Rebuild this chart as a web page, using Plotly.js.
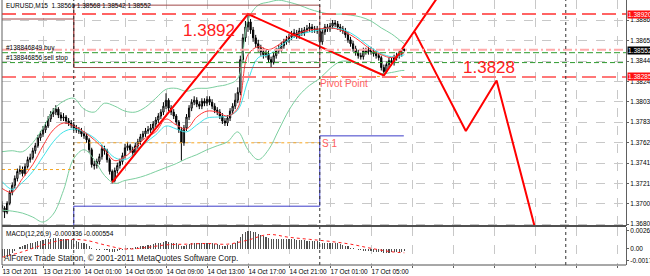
<!DOCTYPE html>
<html><head><meta charset="utf-8">
<script src="https://cdn.plot.ly/plotly-3.0.1.min.js"></script>
<style>html,body{margin:0;padding:0;background:#fff;overflow:hidden}#chart{width:650px;height:276px}</style>
</head><body><div id="chart"></div>
<script>
const headerText = 'EURUSD,M15  1.38566 1.38568 1.38542 1.38552';
const open = [1.3699,1.3696,1.3692,1.3701,1.3712,1.3719,1.3726,1.3733,1.3735,1.3731,
1.3738,1.3745,1.3747,1.3754,1.3759,1.3767,1.3771,1.3775,1.3779,1.3786,
1.3791,1.3793,1.3796,1.3790,1.3787,1.3788,1.3784,1.3782,1.3780,1.3777,
1.3775,1.3774,1.3771,1.3769,1.3765,1.3755,1.3740,1.3739,1.3743,1.3748,
1.3756,1.3754,1.3745,1.3733,1.3724,1.3734,1.3739,1.3743,1.3749,1.3757,
1.3759,1.3755,1.3752,1.3759,1.3763,1.3768,1.3771,1.3774,1.3775,1.3777,
1.3781,1.3785,1.3789,1.3793,1.3799,1.3805,1.3797,1.3793,1.3789,1.3783,
1.3775,1.3762,1.3777,1.3788,1.3797,1.3803,1.3805,1.3801,1.3799,1.3804,
1.3802,1.3806,1.3803,1.3799,1.3795,1.3793,1.3789,1.3784,1.3782,1.3787,
1.3794,1.3799,1.3805,1.3813,1.3846,1.3868,1.3879,1.3884,1.3876,1.3868,
1.3862,1.3858,1.3854,1.3851,1.3852,1.3846,1.3843,1.3850,1.3855,1.3857,
1.3860,1.3864,1.3866,1.3869,1.3871,1.3873,1.3870,1.3875,1.3873,1.3876,
1.3877,1.3879,1.3876,1.3877,1.3875,1.3864,1.3874,1.3879,1.3877,1.3880,
1.3883,1.3882,1.3879,1.3877,1.3875,1.3871,1.3866,1.3862,1.3857,1.3853,
1.3850,1.3849,1.3855,1.3854,1.3856,1.3854,1.3852,1.3850,1.3848,1.3838,
1.3834,1.3841,1.3845,1.3843,1.3848,1.3850,1.3852,1.38566];
const high = [1.3703,1.3698,1.3703,1.3714,1.3722,1.3729,1.3736,1.3739,1.3738,1.3741,
1.3748,1.3751,1.3757,1.3762,1.3770,1.3774,1.3779,1.3783,1.3789,1.3794,
1.3797,1.3800,1.3798,1.3793,1.3792,1.3790,1.3787,1.3785,1.3783,1.3780,
1.3778,1.3777,1.3774,1.3772,1.3767,1.3757,1.3744,1.3746,1.3751,1.3760,
1.3759,1.3756,1.3747,1.3735,1.3737,1.3742,1.3746,1.3752,1.3761,1.3763,
1.3761,1.3758,1.3762,1.3766,1.3771,1.3774,1.3777,1.3779,1.3781,1.3784,
1.3788,1.3792,1.3796,1.3803,1.3812,1.3807,1.3800,1.3796,1.3791,1.3785,
1.3778,1.3780,1.3791,1.3800,1.3806,1.3809,1.3808,1.3804,1.3807,1.3807,
1.3809,1.3809,1.3806,1.3802,1.3798,1.3796,1.3792,1.3787,1.3790,1.3797,
1.3802,1.3812,1.3818,1.3850,1.3872,1.3885,1.3892,1.3887,1.3879,1.3871,
1.3866,1.3861,1.3858,1.3856,1.3855,1.3849,1.3853,1.3858,1.3861,1.3864,
1.3867,1.3870,1.3872,1.3875,1.3877,1.3876,1.3878,1.3878,1.3879,1.3881,
1.3883,1.3882,1.3880,1.3880,1.3877,1.3877,1.3882,1.3882,1.3883,1.3886,
1.3886,1.3885,1.3882,1.3880,1.3878,1.3874,1.3869,1.3865,1.3860,1.3856,
1.3853,1.3858,1.3858,1.3859,1.3859,1.3857,1.3855,1.3853,1.3850,1.3841,
1.3844,1.3848,1.3848,1.3851,1.3853,1.3855,1.3856,1.38568];
const low = [1.3692,1.3686,1.3690,1.3699,1.3709,1.3716,1.3723,1.3730,1.3728,1.3729,
1.3736,1.3742,1.3745,1.3751,1.3757,1.3764,1.3768,1.3772,1.3777,1.3783,
1.3788,1.3790,1.3787,1.3784,1.3784,1.3781,1.3779,1.3777,1.3774,1.3772,
1.3771,1.3768,1.3766,1.3762,1.3752,1.3737,1.3735,1.3736,1.3740,1.3745,
1.3750,1.3742,1.3730,1.3721,1.3722,1.3731,1.3736,1.3740,1.3746,1.3754,
1.3752,1.3749,1.3750,1.3756,1.3760,1.3765,1.3768,1.3771,1.3772,1.3774,
1.3778,1.3782,1.3786,1.3790,1.3796,1.3794,1.3790,1.3786,1.3780,1.3772,
1.3744,1.3759,1.3774,1.3785,1.3794,1.3800,1.3798,1.3796,1.3796,1.3799,
1.3799,1.3800,1.3796,1.3792,1.3790,1.3786,1.3781,1.3779,1.3779,1.3784,
1.3791,1.3796,1.3802,1.3810,1.3843,1.3864,1.3874,1.3872,1.3864,1.3858,
1.3854,1.3850,1.3847,1.3848,1.3843,1.3838,1.3841,1.3847,1.3852,1.3854,
1.3857,1.3861,1.3863,1.3866,1.3868,1.3867,1.3867,1.3870,1.3870,1.3873,
1.3874,1.3873,1.3873,1.3872,1.3856,1.3861,1.3871,1.3874,1.3874,1.3877,
1.3879,1.3876,1.3874,1.3872,1.3868,1.3863,1.3859,1.3854,1.3850,1.3847,
1.3846,1.3846,1.3851,1.3851,1.3851,1.3849,1.3847,1.3845,1.3835,1.3831,
1.3832,1.3838,1.3840,1.3840,1.3845,1.3847,1.3849,1.38542];
const close = [1.3696,1.3692,1.3701,1.3712,1.3719,1.3726,1.3733,1.3735,1.3731,1.3738,
1.3745,1.3747,1.3754,1.3759,1.3767,1.3771,1.3775,1.3779,1.3786,1.3791,
1.3793,1.3796,1.3790,1.3787,1.3788,1.3784,1.3782,1.3780,1.3777,1.3775,
1.3774,1.3771,1.3769,1.3765,1.3755,1.3740,1.3739,1.3743,1.3748,1.3756,
1.3754,1.3745,1.3733,1.3724,1.3734,1.3739,1.3743,1.3749,1.3757,1.3759,
1.3755,1.3752,1.3759,1.3763,1.3768,1.3771,1.3774,1.3775,1.3777,1.3781,
1.3785,1.3789,1.3793,1.3799,1.3805,1.3797,1.3793,1.3789,1.3783,1.3775,
1.3762,1.3777,1.3788,1.3797,1.3803,1.3805,1.3801,1.3799,1.3804,1.3802,
1.3806,1.3803,1.3799,1.3795,1.3793,1.3789,1.3784,1.3782,1.3787,1.3794,
1.3799,1.3805,1.3813,1.3846,1.3868,1.3879,1.3884,1.3876,1.3868,1.3862,
1.3858,1.3854,1.3851,1.3852,1.3846,1.3843,1.3850,1.3855,1.3857,1.3860,
1.3864,1.3866,1.3869,1.3871,1.3873,1.3870,1.3875,1.3873,1.3876,1.3877,
1.3879,1.3876,1.3877,1.3875,1.3864,1.3874,1.3879,1.3877,1.3880,1.3883,
1.3882,1.3879,1.3877,1.3875,1.3871,1.3866,1.3862,1.3857,1.3853,1.3850,
1.3849,1.3855,1.3854,1.3856,1.3854,1.3852,1.3850,1.3848,1.3838,1.3834,
1.3841,1.3845,1.3843,1.3848,1.3850,1.3852,1.3853,1.38552];
const macd = [-0.0012,-0.0013,-0.0011,-0.0009,-0.0006,-0.0003,0.0000,0.0003,0.0005,0.0006,
0.0007,0.0008,0.0009,0.0010,0.0011,0.0012,0.0013,0.0014,0.0015,0.0015,
0.0016,0.0016,0.0016,0.0015,0.0015,0.0014,0.0014,0.0013,0.0012,0.0011,
0.0010,0.0009,0.0008,0.0007,0.0005,0.0002,0.0000,-0.0001,-0.0001,0.0000,
-0.0001,-0.0002,-0.0004,-0.0005,-0.0004,-0.0003,-0.0002,-0.0001,0.0000,0.0001,
0.0001,0.0002,0.0003,0.0003,0.0004,0.0005,0.0005,0.0006,0.0006,0.0007,
0.0008,0.0008,0.0009,0.0010,0.0011,0.0010,0.0009,0.0009,0.0008,0.0006,
0.0004,0.0005,0.0006,0.0007,0.0008,0.0008,0.0008,0.0008,0.0008,0.0008,
0.0008,0.0008,0.0008,0.0007,0.0007,0.0006,0.0005,0.0005,0.0006,0.0006,
0.0007,0.0008,0.0011,0.0017,0.0022,0.0025,0.0026,0.0026,0.0025,0.0024,
0.0022,0.0020,0.0019,0.0017,0.0016,0.0015,0.0015,0.0015,0.0015,0.0014,
0.0014,0.0014,0.0014,0.0014,0.0014,0.0013,0.0013,0.0013,0.0013,0.0012,
0.0012,0.0012,0.0011,0.0011,0.0010,0.0009,0.0009,0.0009,0.0009,0.0009,
0.0008,0.0008,0.0007,0.0006,0.0005,0.0004,0.0002,0.0001,0.0000,-0.0001,
-0.0002,-0.0003,-0.0003,-0.0003,-0.0003,-0.0004,-0.0004,-0.0005,-0.0005,-0.0006,
-0.0006,-0.0006,-0.0005,-0.0005,-0.0004,-0.0004,-0.0004,-0.000336];

// indicator lines sampled every 4 bars (bar index)
const indBars = [0,4,8,12,16,20,24,28,32,36,40,44,48,52,56,60,64,68,72,76,80,84,88,92,96,100,104,108,112,116,120,124,128,132,136,140,144,148,152,156,157];
const maFast = [1.3716,1.3712,1.3726,1.3740,1.3759,1.3775,1.3782,1.3779,1.3773,1.3765,1.3755,1.3744,1.3748,1.3757,1.3767,1.3773,1.3786,1.3780,1.3776,1.3788,1.3794,1.3793,1.3789,1.3797,1.3851,1.3859,1.3856,1.3861,1.3869,1.3873,1.3876,1.3877,1.3878,1.3876,1.3871,1.3864,1.3856,1.3851,1.3848,1.3852,1.3853];
const maSlow = [1.3723,1.3715,1.3722,1.3733,1.3748,1.3763,1.3773,1.3776,1.3773,1.3767,1.3757,1.3747,1.3745,1.3752,1.3762,1.3770,1.3779,1.3776,1.3773,1.3780,1.3787,1.3788,1.3789,1.3795,1.3825,1.3848,1.3851,1.3858,1.3866,1.3871,1.3874,1.3876,1.3878,1.3877,1.3873,1.3866,1.3858,1.3852,1.3849,1.3850,1.3851];
const bandUpper = [1.3753,1.3754,1.3753,1.3762,1.3777,1.3795,1.3804,1.3807,1.3796,1.3793,1.3802,1.3799,1.3794,1.3793,1.3798,1.3807,1.3816,1.3817,1.3814,1.3817,1.3817,1.3819,1.3821,1.3827,1.3886,1.3901,1.3904,1.3906,1.3904,1.3901,1.3897,1.3894,1.3892,1.3892,1.3891,1.3889,1.3885,1.3878,1.3872,1.3864,1.3862];
const bandLower = [1.3694,1.3693,1.3691,1.3687,1.3682,1.3690,1.3714,1.3746,1.3755,1.3745,1.3729,1.3721,1.3724,1.3726,1.3729,1.3733,1.3737,1.3741,1.3746,1.3750,1.3755,1.3759,1.3763,1.3773,1.3755,1.3745,1.3755,1.3775,1.3795,1.3810,1.3820,1.3827,1.3837,1.3844,1.3844,1.3840,1.3835,1.3832,1.3833,1.3835,1.3835];

const signalBars = [0,8,16,24,32,40,48,56,64,72,80,88,96,104,112,120,128,136,144,152,157];
const signal = [-0.0012,-0.0004,0.0006,0.0013,0.0013,0.0006,0.0000,0.0002,0.0006,0.0007,0.0008,0.0007,0.0013,0.0021,0.0017,0.0014,0.0011,0.0007,0.0001,-0.0004,-0.000554];

// zigzag + projection
const zigBars = [43,96,149,170];
const zigPrices = [1.3722,1.3892,1.3830,1.3909];
const projBars = [161,181,193,208];
const projPrices = [1.3874,1.3774,1.3825,1.3676];

// day levels (day start bar index)
const dayStarts = [0,28,124,220];
const pivots = [1.3735,1.3762,1.3829];
const s1Levels = [1.3660,1.3698,1.3769];
const lastBar = 157.5;
const rangeTop = [1.3887,1.3901];
const rangeLow = 1.3838;

const levelHigh = 1.38920, levelLow = 1.38285, bidPrice = 1.38552;
const buyPrice = 1.3853, askLine = 1.3856, sellStopPrice = 1.3843;
const buyLabel = '#138846849 buy', sellLabel = '#138846856 sell stop';

const priceTicks = [1.38860,1.38655,1.38445,1.38240,1.38035,1.37830,1.37625,1.37415,1.37210,1.37005,1.36800];
const macdTicks = [0.002613,0,-0.00171];
const macdTickText = ['0.002613','0.00','-0.00171'];
const timeTicks = [0,16,32,48,64,80,96,112,128,144,160,176,192,208,224,240];
const timeLabels = ['13 Oct 2011','13 Oct 21:00','14 Oct 01:00','14 Oct 05:00','14 Oct 09:00','14 Oct 13:00','14 Oct 17:00','14 Oct 21:00','17 Oct 01:00','17 Oct 05:00','','','','','',''];

const bars = close.map((_, i) => i);
const F = 'Liberation Sans, Arial, sans-serif';

const traces = [];
traces.push({type:'scatter',mode:'lines',x:indBars,y:bandUpper,line:{color:'#7ccf9f',width:1,shape:'spline'},hoverinfo:'skip'});
traces.push({type:'scatter',mode:'lines',x:indBars,y:bandLower,line:{color:'#7ccf9f',width:1,shape:'spline'},hoverinfo:'skip'});
traces.push({type:'scatter',mode:'lines',x:indBars,y:maSlow,line:{color:'#3fe3e8',width:1,shape:'spline'},hoverinfo:'skip'});
traces.push({type:'scatter',mode:'lines',x:indBars,y:maFast,line:{color:'#ff3a3a',width:1,shape:'spline'},hoverinfo:'skip'});
traces.push({type:'scatter',mode:'lines',x:[dayStarts[0],dayStarts[1],dayStarts[2],lastBar],y:[pivots[0],pivots[1],pivots[2],pivots[2]],line:{color:'#f5a623',width:1,shape:'hv',dash:'dot'},hoverinfo:'skip'});
traces.push({type:'scatter',mode:'lines',x:[dayStarts[0],dayStarts[1],dayStarts[2],lastBar-0.7],y:[s1Levels[0],s1Levels[1],s1Levels[2],s1Levels[2]],line:{color:'#3c3cc8',width:1,shape:'hv'},hoverinfo:'skip'});
traces.push({type:'scatter',mode:'lines',x:[dayStarts[0],dayStarts[1],dayStarts[1]],y:[rangeTop[0],rangeTop[0],rangeLow],line:{color:'#a04848',width:1},hoverinfo:'skip'});
traces.push({type:'scatter',mode:'lines',x:[dayStarts[1],dayStarts[2],dayStarts[2],dayStarts[1],dayStarts[1]],y:[rangeTop[1],rangeTop[1],rangeLow,rangeLow,rangeTop[1]],line:{color:'#a04848',width:1},hoverinfo:'skip'});
traces.push({type:'candlestick',x:bars,open:open,high:high,low:low,close:close,
  increasing:{line:{color:'#000000',width:1},fillcolor:'#ffffff'},
  decreasing:{line:{color:'#000000',width:1},fillcolor:'#000000'},
  whiskerwidth:0,hoverinfo:'skip'});
traces.push({type:'scatter',mode:'lines',x:zigBars,y:zigPrices,line:{color:'#ff0000',width:2},hoverinfo:'skip'});
traces.push({type:'scatter',mode:'lines',x:projBars,y:projPrices,line:{color:'#ff0000',width:2},hoverinfo:'skip'});
traces.push({type:'bar',x:bars,y:macd,xaxis:'x',yaxis:'y2',marker:{color:'#505050',line:{width:0}},width:0.45,hoverinfo:'skip'});
traces.push({type:'scatter',mode:'lines',x:signalBars,y:signal,xaxis:'x',yaxis:'y2',line:{color:'#ff2020',width:1,dash:'dot',shape:'spline'},hoverinfo:'skip'});

const shapes = [];
function hline(y, color, width, dash){ shapes.push({type:'line',xref:'paper',x0:0,x1:1,yref:'y',y0:y,y1:y,line:{color:color,width:width,dash:dash},layer:'above'}); }
hline(levelHigh,'#ff3030',1.5,'14px,6px');
hline(levelLow,'#ff7878',2,'14px,6px');
hline(askLine,'#ffaaaa',2,'9px,3px,2px,3px');
hline(buyPrice,'#2e9a2e',1,'6px,3px');
hline(sellStopPrice,'#2e9a2e',1,'5px,3px');
dayStarts.slice(1).forEach(d => shapes.push({type:'line',xref:'x',x0:d,x1:d,yref:'paper',y0:0,y1:1,line:{color:'#303030',width:1,dash:'dot'}}));
shapes.push({type:'line',xref:'paper',x0:0,x1:0,yref:'paper',y0:0,y1:1,line:{color:'#606060',width:1}});
shapes.push({type:'line',xref:'paper',x0:0,x1:1,yref:'y domain',y0:0,y1:0,line:{color:'#505050',width:2}});
shapes.push({type:'line',xref:'paper',x0:0,x1:1,yref:'paper',y0:0,y1:0,line:{color:'#505050',width:1}});

const ann = [];
ann.push({xref:'paper',x:0,xanchor:'left',xshift:2,yref:'paper',y:1,yanchor:'top',yshift:0,text:headerText,showarrow:false,font:{family:F,size:6.5,color:'#000'}});
ann.push({xref:'paper',x:0,xanchor:'left',xshift:2,yref:'y',y:buyPrice,yanchor:'bottom',yshift:-1,text:buyLabel,showarrow:false,font:{family:F,size:6.5,color:'#000'}});
ann.push({xref:'paper',x:0,xanchor:'left',xshift:2,yref:'y',y:sellStopPrice,yanchor:'bottom',yshift:-1,text:sellLabel,showarrow:false,font:{family:F,size:6.5,color:'#000'}});
ann.push({xref:'x',x:70,xanchor:'left',yref:'y',y:1.3875,yanchor:'middle',text:'1.3892',showarrow:false,font:{family:F,size:17,color:'#ff2020'}});
ann.push({xref:'x',x:179,xanchor:'left',yref:'y',y:1.3838,yanchor:'middle',text:'1.3828',showarrow:false,font:{family:F,size:17,color:'#ff2020'}});
ann.push({xref:'x',x:dayStarts[2]-0.5,xanchor:'left',yref:'y',y:pivots[2],yanchor:'top',text:'Pivot Point',showarrow:false,font:{family:F,size:10,color:'#ff6060'}});
ann.push({xref:'x',x:dayStarts[2],xanchor:'left',yref:'y',y:s1Levels[2],yanchor:'top',text:'S 1',showarrow:false,font:{family:F,size:10,color:'#ff6060'}});
ann.push({xref:'paper',x:0,xanchor:'left',xshift:2,yref:'y2 domain',y:1,yanchor:'top',yshift:-1,text:'MACD(12,26,9) -0.000336 -0.000554',showarrow:false,font:{family:F,size:6.5,color:'#000'}});
ann.push({xref:'paper',x:0,xanchor:'left',xshift:0,yref:'paper',y:0,yanchor:'bottom',yshift:0,text:'AlForex Trade Station, © 2001-2011 MetaQuotes Software Corp.',showarrow:false,font:{family:F,size:8.2,color:'#202020'}});
[[levelHigh,'#ff1010'],[bidPrice,'#000000'],[levelLow,'#ff1010']].forEach(([v,c]) => ann.push({xref:'paper',x:1,xanchor:'left',xshift:1,yref:'y',y:v,yanchor:'middle',text:v.toFixed(5),showarrow:false,bgcolor:c,borderpad:0,font:{family:F,size:6.5,color:'#ffffff'}}));

const axFont = {family:F,size:6.5,color:'#000'};
const layout = {
  width:650,height:276,margin:{l:2,r:24,t:0,b:11},
  paper_bgcolor:'#ffffff',plot_bgcolor:'#ffffff',showlegend:false,
  xaxis:{range:[0,243.5],anchor:'y2',tickvals:timeTicks,ticktext:timeLabels,ticklabelposition:'outside right',tickangle:0,
    ticks:'outside',ticklen:2,tickcolor:'#606060',tickfont:axFont,showgrid:true,gridcolor:'#c8c8c8',griddash:'dash',gridwidth:1,
    zeroline:false,showline:false,rangeslider:{visible:false},fixedrange:true,automargin:false},
  yaxis:{domain:[0.1472,1],range:[1.36780,1.39062],side:'right',tickvals:priceTicks,tickformat:'.5f',ticks:'outside',ticklen:2,
    tickcolor:'#606060',tickfont:axFont,showgrid:true,gridcolor:'#c8c8c8',griddash:'dash',zeroline:false,showline:true,linecolor:'#606060',linewidth:1,fixedrange:true,automargin:false},
  yaxis2:{domain:[0,0.1434],range:[-0.00232,0.00319],side:'right',anchor:'x',tickvals:macdTicks,ticktext:macdTickText,ticks:'outside',ticklen:2,
    tickcolor:'#606060',tickfont:axFont,showgrid:false,zeroline:false,showline:true,linecolor:'#606060',linewidth:1,fixedrange:true,automargin:false},
  shapes:shapes,annotations:ann,bargap:0
};
Plotly.newPlot('chart',traces,layout,{staticPlot:true,displayModeBar:false});
</script></body></html>
